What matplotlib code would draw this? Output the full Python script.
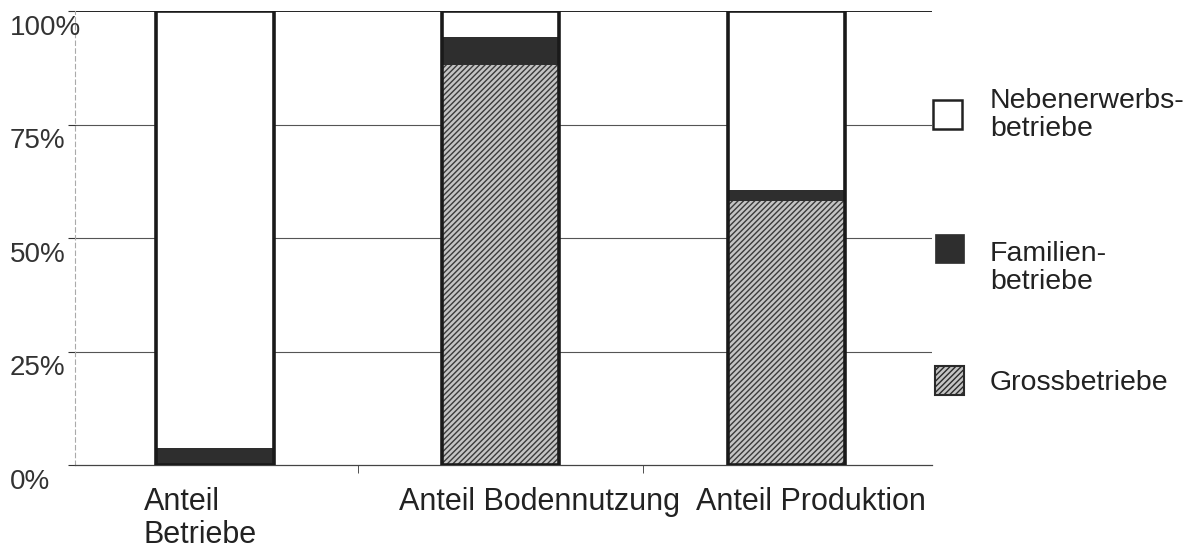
import numpy as np
import matplotlib.pyplot as plt
from matplotlib.patches import Rectangle

plt.rcParams['font.family'] = ['Liberation Sans', 'DejaVu Sans']
plt.rcParams['hatch.linewidth'] = 1.0

categories = ["Anteil\nBetriebe", "Anteil Bodennutzung", "Anteil Produktion"]
gross = [0.0, 88.1, 58.1]
familien = [3.7, 6.2, 2.5]
neben = [96.3, 5.7, 39.4]
yticks = [0, 25, 50, 75, 100]
ytick_labels = ["0%", "25%", "50%", "75%", "100%"]
legend_labels = ["Nebenerwerbs-\nbetriebe", "Familien-\nbetriebe", "Grossbetriebe"]

fig = plt.figure(figsize=(12, 5.49), dpi=100)
W, H = 1200, 549
ax = fig.add_axes([75 / W, 1 - 465 / H, (932 - 75) / W, (465 - 11) / H])

x = np.arange(len(categories))
width = 0.41
gross = np.array(gross)
familien = np.array(familien)
neben = np.array(neben)

# gridlines
for t in yticks[1:]:
    ax.axhline(t, color="#111111" if t == 100 else "#555555",
               lw=1.3 if t == 100 else 0.8, zorder=1)

ax.bar(x, gross, width, color="#c4c4c4", edgecolor="#3a3a3a", hatch="//////",
       linewidth=0, zorder=2)
ax.bar(x, familien, width, bottom=gross, color="#2e2e2e", linewidth=0, zorder=2)
ax.bar(x, neben, width, bottom=gross + familien, color="white", linewidth=0, zorder=2)
ax.bar(x, gross + familien + neben, width, fill=False, edgecolor="#1a1a1a",
       linewidth=2.6, zorder=3)

ax.set_xlim(-0.49, 2.51)
ax.set_ylim(0, 100)
ax.set_yticks(yticks)
ax.set_yticklabels([])
ax.set_xticks([])
ax.set_xticks([0.5, 1.5], minor=True)
ax.tick_params(axis="x", which="minor", length=6, direction="out", color="#333333")
ax.tick_params(axis="y", length=5, direction="out", color="#333333")

for s in ["top", "right"]:
    ax.spines[s].set_visible(False)
ax.spines["left"].set_linestyle((0, (4, 3)))
ax.spines["left"].set_color("#aaaaaa")
ax.spines["left"].set_linewidth(0.8)
ax.spines["bottom"].set_color("#444444")
ax.spines["bottom"].set_linewidth(0.9)

# y labels, left aligned at figure edge
for t, lab in zip(yticks, ytick_labels):
    ax.annotate(lab, xy=(10 / W, t), xycoords=("figure fraction", "data"),
                xytext=(0, -12), textcoords="offset points",
                ha="left", va="center", fontsize=20, color="#333333")

# category labels
label_x = [-0.25, 0.645, 1.685]
for lx, lab in zip(label_x, categories):
    ax.annotate(lab, xy=(lx, 0), xycoords="data", xytext=(0, -16),
                textcoords="offset points", ha="left", va="top",
                fontsize=22, color="#222222", linespacing=1.1)

# legend
leg_boxes = [(933, 100), (935, 234), (935, 366)]
leg_text_y = [115, 268, 383]
styles = [dict(facecolor="white", edgecolor="#222222", lw=1.8),
          dict(facecolor="#2e2e2e", edgecolor="#2e2e2e", lw=0.5),
          dict(facecolor="#c4c4c4", edgecolor="#2a2a2a", hatch="//////", lw=1.5)]
for (bx, by), ty, lab, st in zip(leg_boxes, leg_text_y, legend_labels, styles):
    r = Rectangle((bx / W, 1 - (by + 29) / H), 29 / W, 29 / H,
                  transform=fig.transFigure, **st)
    fig.add_artist(r)
    fig.text(990 / W, 1 - ty / H, lab, ha="left", va="center", fontsize=20.5,
             color="#222222", linespacing=1.08)

fig.savefig("out.png", dpi=100)
